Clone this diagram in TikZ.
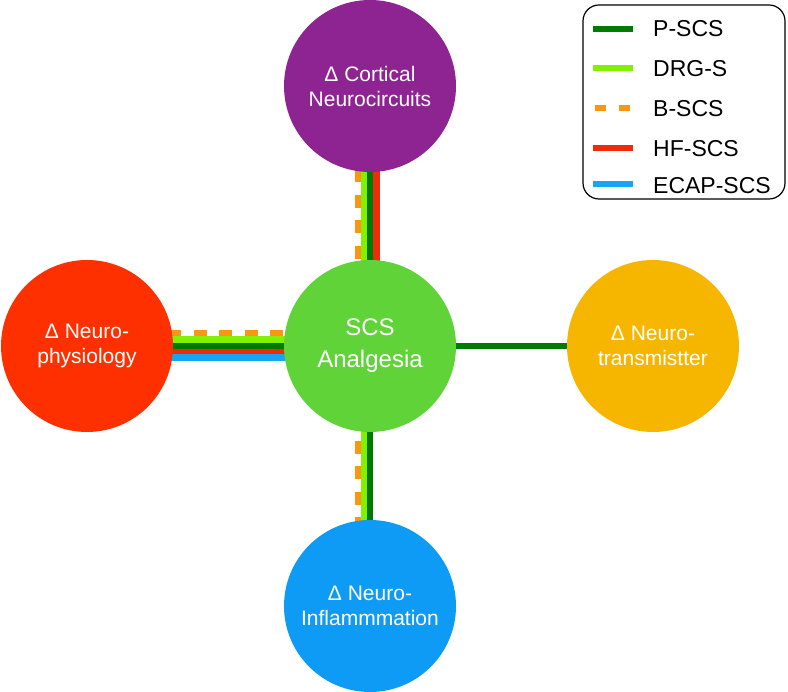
\documentclass[tikz,border=0pt]{standalone}
\usepackage{fontspec}
\setmainfont{Liberation Sans}
\pgfdeclarelayer{background}
\pgfsetlayers{background,main}
\definecolor{cpurple}{RGB}{142,36,145}
\definecolor{cred}{RGB}{255,48,0}
\definecolor{cgreen}{RGB}{96,211,56}
\definecolor{corange}{RGB}{246,182,0}
\definecolor{cblue}{RGB}{14,155,245}
\definecolor{lpscs}{RGB}{0,122,0}
\definecolor{ldrg}{RGB}{130,240,0}
\definecolor{lbscs}{RGB}{250,150,20}
\definecolor{lhf}{RGB}{240,42,10}
\definecolor{lecap}{RGB}{22,165,245}
\tikzset{
  circ/.style={circle, minimum size=172pt, inner sep=0pt, text=white, align=center,
    font=\fontsize{21}{25}\selectfont},
  conn/.style={line width=6.4pt},
  pscs/.style={conn, draw=lpscs},
  drg/.style={conn, draw=ldrg},
  bscs/.style={conn, draw=lbscs, dash pattern=on 13pt off 12.5pt},
  hfscs/.style={conn, draw=lhf},
  ecap/.style={conn, draw=lecap},
  legtext/.style={anchor=base west, font=\fontsize{23}{27}\selectfont, inner sep=0pt},
}
\begin{document}
\begin{tikzpicture}[x=1pt,y=1pt]
\useasboundingbox (0,0) rectangle (788,-692);
% circles
\node[circ, fill=cgreen, font=\fontsize{24}{32}\selectfont] (c) at (370,-346) {SCS\\Analgesia};
\node[circ, fill=cpurple] (t) at (370,-86) {Δ Cortical\\Neurocircuits};
\node[circ, fill=cred] (l) at (87,-346) {Δ Neuro-\\physiology};
\node[circ, fill=corange] (r) at (653,-346) {Δ Neuro-\\transmistter};
\node[circ, fill=cblue] (b) at (370,-606) {Δ Neuro-\\Inflammmation};
% connectors
\begin{pgfonlayer}{background}
  % top
  \draw[bscs, dash phase=15pt] ([xshift=-12pt]c.center) -- ([xshift=-12pt]t.center);
  \draw[drg] ([xshift=-6pt]c.center) -- ([xshift=-6pt]t.center);
  \draw[pscs] (c.center) -- (t.center);
  \draw[hfscs] ([xshift=6.5pt]c.center) -- ([xshift=6.5pt]t.center);
  % left
  \draw[bscs, dash phase=15pt] ([yshift=12.5pt]c.center) -- ([yshift=12.5pt]l.center);
  \draw[drg] ([yshift=6.3pt]c.center) -- ([yshift=6.3pt]l.center);
  \draw[pscs] (c.center) -- (l.center);
  \draw[hfscs] ([yshift=-5.8pt]c.center) -- ([yshift=-5.8pt]l.center);
  \draw[ecap] ([yshift=-11.6pt]c.center) -- ([yshift=-11.6pt]l.center);
  % right
  \draw[pscs] (c.center) -- (r.center);
  % bottom
  \draw[bscs, dash phase=7pt] ([xshift=-12pt]c.center) -- ([xshift=-12pt]b.center);
  \draw[drg] ([xshift=-6pt]c.center) -- ([xshift=-6pt]b.center);
  \draw[pscs] (c.center) -- (b.center);
\end{pgfonlayer}
% legend
\draw[line width=1.2pt, rounded corners=16pt] (583,-5) rectangle (785,-199);
\coordinate (p1) at (593,-29);  \coordinate (p2) at (633,-29);
\coordinate (d1) at (593,-68);  \coordinate (d2) at (633,-68);
\coordinate (b1) at (595,-108); \coordinate (b2) at (631,-108);
\coordinate (h1) at (593,-148); \coordinate (h2) at (633,-148);
\coordinate (e1) at (593,-184); \coordinate (e2) at (633,-184);
\draw[pscs] (p1) -- (p2);
\draw[drg] (d1) -- (d2);
\draw[lbscs, line width=6.4pt, dash pattern=on 11pt off 13pt] (b1) -- (b2);
\draw[hfscs] (h1) -- (h2);
\draw[ecap] (e1) -- (e2);
\node[legtext] (tp) at (653,-37) {P-SCS};
\node[legtext] (td) at (653,-77) {DRG-S};
\node[legtext] (tb) at (653,-117) {B-SCS};
\node[legtext] (th) at (653,-157) {HF-SCS};
\node[legtext] (te) at (653,-194) {ECAP-SCS};
\end{tikzpicture}
\end{document}
